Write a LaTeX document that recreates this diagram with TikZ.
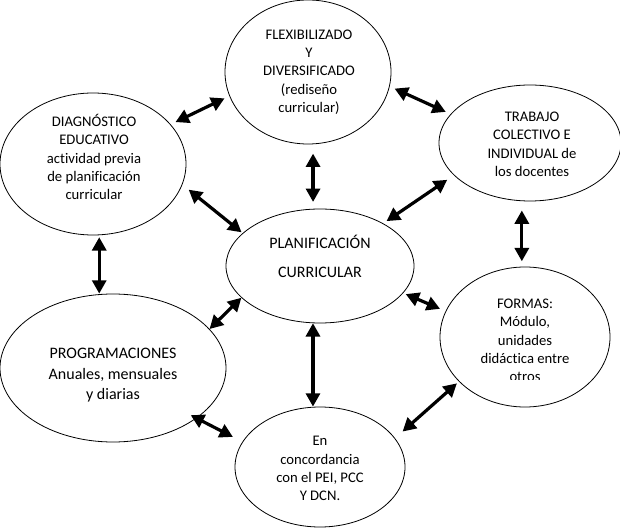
\documentclass[tikz,border=0pt]{standalone}
\usepackage{fontspec}
\setmainfont{Carlito}[RawFeature=-liga]
\usetikzlibrary{arrows.meta,shapes.geometric}

\begin{document}
\begin{tikzpicture}[x=0.75pt,y=-0.75pt,
    bubble/.style={draw, ellipse, line width=0.6pt, inner sep=0pt},
    txt/.style={align=center, font=\fontsize{11}{13.7}\selectfont},
    bigtxt/.style={align=center, font=\fontsize{12}{15.4}\selectfont},
    link/.style={{Triangle[length=10pt,width=10.5pt]}-{Triangle[length=10pt,width=10.5pt]}, line width=2.4pt}]
    \useasboundingbox (0,0) rectangle (620,530);
    \node[bubble, minimum width=124.5pt, minimum height=108pt] (flex) at (308,72) {};
    \node[bubble, minimum width=139.5pt, minimum height=106.5pt] (diag) at (93,164) {};
    \node[bubble, minimum width=136.5pt, minimum height=87pt] (trab) at (530,143) {};
    \node[bubble, minimum width=141pt, minimum height=85.5pt] (plan) at (320,266) {};
    \node[bubble, minimum width=127.5pt, minimum height=105pt] (form) at (525,337) {};
    \node[bubble, minimum width=169.5pt, minimum height=111pt] (prog) at (113,368) {};
    \node[bubble, minimum width=127.5pt, minimum height=90pt] (conc) at (320,467) {};
    \node[txt] (flextext) at (309,72) {FLEXIBILIZADO\\Y\\DIVERSIFICADO\\(rediseño\\curricular)};
    \node[txt] (diagtext) at (94,157.2) {DIAGNÓSTICO\\EDUCATIVO\\actividad previa\\de planificación\\curricular};
    \node[txt] (trabtext) at (532,144.3) {TRABAJO\\COLECTIVO E\\INDIVIDUAL de\\los docentes};
    \node[bigtxt] (plantext) at (320,256.3) {PLANIFICACIÓN\\[6.5pt]CURRICULAR};
    \begin{scope}
        \clip (440,262) rectangle (612,379);
        \node[txt] (formtext) at (525,340.4) {FORMAS:\\Módulo,\\unidades\\didáctica entre\\otros};
    \end{scope}
    \node[bigtxt] (progtext) at (113,375.5) {PROGRAMACIONES\\Anuales, mensuales\\y diarias};
    \node[txt] (conctext) at (320,468.5) {En\\concordancia\\con el PEI, PCC\\Y DCN.};
    \foreach \a/\b/\s/\t in {diag.27/flex.197/4/4, flex.350/trab.160/4/4,
        diag.347/plan.157/6/1, trab.203/plan.34/6/3, plan.342/form.162/2/4.5,
        plan.202/prog.22/0/0, prog.329/conc.162/-5/8, form.214/conc.21/2/7.5}
        \draw[link, shorten <=\s pt, shorten >=\t pt] (\a) -- (\b);
    \draw[link, shorten <=7pt, shorten >=5pt] (flex.274) -- (flex.274 |- plan.north);
    \draw[link, shorten <=1.5pt] (diag.275) -- (diag.275 |- prog.north);
    \draw[link, shorten <=7pt, shorten >=4pt] (trab.262) -- (trab.262 |- form.north);
    \draw[link] (plan.263) -- (plan.263 |- conc.north);
\end{tikzpicture}
\end{document}
